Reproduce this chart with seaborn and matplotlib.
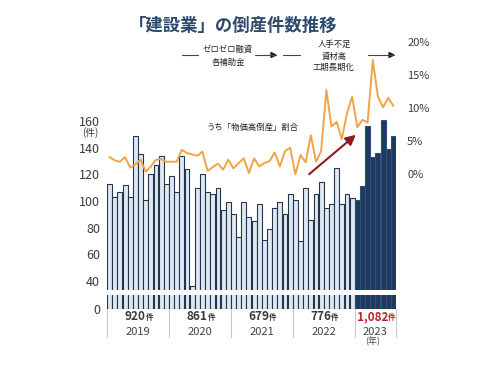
import numpy as np
import pandas as pd
import matplotlib.pyplot as plt
from matplotlib.transforms import blended_transform_factory
from matplotlib.ticker import FuncFormatter
import seaborn as sns

# ─── DATA ────────────────────────────────────────────────────────────────────
years = ["2019", "2020", "2021", "2022", "2023"]
months_per_year = [12, 12, 12, 12, 8]
year_totals = ["920", "861", "679", "776", "1,082"]

counts_2019 = [113, 103, 107, 112, 103, 149, 135, 101, 120, 127, 134, 113]
counts_2020 = [119, 107, 134, 124, 36, 110, 120, 107, 105, 110, 93, 99]
counts_2021 = [90, 73, 99, 88, 85, 98, 71, 79, 95, 99, 90, 105]
counts_2022 = [101, 70, 110, 86, 105, 114, 95, 98, 125, 98, 105, 102]
counts_2023 = [101, 111, 156, 133, 136, 161, 139, 149]

pct_2019 = [2.6, 2.1, 1.9, 2.6, 1.0, 1.5, 2.2, 0.4, 1.2, 2.2, 2.3, 1.9]
pct_2020 = [1.9, 1.9, 3.7, 3.2, 3.0, 2.8, 3.4, 0.5, 1.1, 1.6, 0.7, 2.2]
pct_2021 = [0.9, 1.7, 2.4, 0.2, 2.4, 1.2, 1.7, 2.0, 3.3, 1.2, 3.5, 4.0]
pct_2022 = [0.0, 2.9, 1.8, 5.9, 1.9, 3.5, 12.7, 7.2, 7.9, 5.3, 9.2, 11.7]
pct_2023 = [7.1, 8.2, 7.8, 17.2, 11.7, 10.1, 11.5, 10.3]

counts = counts_2019 + counts_2020 + counts_2021 + counts_2022 + counts_2023
pct = pct_2019 + pct_2020 + pct_2021 + pct_2022 + pct_2023

df = pd.DataFrame({
    "idx": np.arange(len(counts)),
    "count": counts,
    "pct": pct,
    "year": np.repeat(years, months_per_year),
})
df["period"] = np.where(df["year"] == "2023", "2023", "before")

# ─── STYLE ───────────────────────────────────────────────────────────────────
sns.set_theme(style="white")
plt.rcParams["font.family"] = ["Noto Sans CJK JP", "DejaVu Sans"]

LIGHT = "#dbe8f5"
DARK = "#163765"
EDGE = "#24364d"
ORANGE = "#f0a447"
TITLE = "#2e4a6b"
TEXT = "#3a3a3a"
RED = "#b8232b"
ARROW_RED = "#8e1b1f"

W, H = 500, 369
fig = plt.figure(figsize=(W / 100, H / 100), dpi=100)


def fx(x):
    return x / W


def fy(y):
    return 1 - y / H


ax = fig.add_axes([fx(107), fy(290.4), fx(396) - fx(107), fy(35) - fy(290.4)])
ax_low = fig.add_axes([fx(107), fy(308.5), fx(396) - fx(107), fy(295) - fy(308.5)])

for a in (ax, ax_low):
    sns.barplot(data=df, x="idx", y="count", hue="period",
                palette={"before": LIGHT, "2023": DARK}, dodge=False,
                width=0.95, edgecolor=EDGE, linewidth=0.8, legend=False, ax=a)
    # 2023 bars get a slightly lighter outline so the months stay visible
    for p, per in zip(a.patches, df["period"]):
        if per == "2023":
            p.set_edgecolor("#2a4f82")
    a.set_xlim(-0.5, len(counts) - 0.5)
    a.set_xticks([])
    a.set_xlabel("")
    a.set_ylabel("")
    a.tick_params(axis="y", length=0, pad=5, labelsize=9, labelcolor=TEXT)
    for s in a.spines.values():
        s.set_visible(False)

ax.set_ylim(33, 224.3)
ax.set_yticks(range(40, 161, 20))
ax_low.set_ylim(0, 10)
ax_low.set_yticks([0])

# ratio line on the right axis
ax2 = ax.twinx()
sns.lineplot(data=df, x="idx", y="pct", color=ORANGE, linewidth=1.4, ax=ax2)
ax2.set_ylim(-17.48, 20.98)
ax2.set_yticks([0, 5, 10, 15, 20])
ax2.yaxis.set_major_formatter(FuncFormatter(lambda v, _: f"{v:.0f}%"))
ax2.tick_params(axis="y", length=0, pad=8, labelsize=8, labelcolor=TEXT)
ax2.set_ylabel("")
for s in ax2.spines.values():
    s.set_visible(False)

# unit label under 160
ax.text(-0.059, 150.9, "(件)", transform=ax.get_yaxis_transform(),
        ha="center", va="center", fontsize=7, color=TEXT)

# ─── YEAR STRIP ──────────────────────────────────────────────────────────────
starts = np.cumsum([0] + months_per_year[:-1])
ends = np.cumsum(months_per_year)
trans = blended_transform_factory(ax_low.transData, fig.transFigure)
for b in list(starts - 0.5) + [ends[-1] - 0.5]:
    ax_low.plot([b, b], [fy(309), fy(337)], color="#c8c8c8", lw=0.8,
                transform=trans, clip_on=False)

for yr, tot, s, e in zip(years, year_totals, starts, ends):
    xc = (s + e - 1) / 2
    col = RED if yr == "2023" else TEXT
    num = ax_low.annotate(tot, xy=(xc, 0), xycoords=("data", "axes fraction"),
                          xytext=(-3, -8.5), textcoords="offset pixels",
                          ha="center", va="center", fontsize=8.5,
                          fontweight="bold", color=col)
    ax_low.annotate("件", xy=(1, 0.12), xycoords=num, ha="left", va="bottom",
                    fontsize=5.5, fontweight="bold", color=col)
    ax_low.annotate(yr, xy=(xc, 0), xycoords=("data", "axes fraction"),
                    xytext=(0, -23.5), textcoords="offset pixels",
                    ha="center", va="center", fontsize=8, color="#444444")

fig.text(fx(373), fy(341), "(年)", ha="center", va="center", fontsize=6.5,
         color="#444444")

# ─── TITLE & ANNOTATIONS ─────────────────────────────────────────────────────
fig.text(fx(233), fy(26), "「建設業」の倒産件数推移", ha="center", va="center",
         fontsize=12.5, fontweight="bold", color=TITLE)

fig.text(fx(228), fy(56), "ゼロゼロ融資\n各補助金", ha="center", va="center",
         fontsize=6, color="#222222", linespacing=1.5)
fig.text(fx(334), fy(56), "人手不足\n資材高\n工期長期化", ha="center",
         va="center", fontsize=6, color="#222222", linespacing=1.35)
fig.text(fx(253), fy(127), "うち「物価高倒産」割合", ha="center", va="center",
         fontsize=6, color="#222222")

for x0, x1, head in [(182, 198, False), (255, 276, True),
                     (283, 300, False), (368, 394, True)]:
    fig.add_artist(plt.Line2D([fx(x0), fx(x1)], [fy(55), fy(55)],
                              color="#444444", lw=0.8))
    if head:
        fig.add_artist(plt.Polygon([[fx(x1), fy(55)],
                                    [fx(x1 - 5), fy(52.5)],
                                    [fx(x1 - 5), fy(57.5)]],
                                   closed=True, color="#222222"))

ax.annotate("", xy=(fx(358), fy(133)), xycoords="figure fraction",
            xytext=(fx(307), fy(176)), textcoords="figure fraction",
            arrowprops=dict(arrowstyle="-|>,head_length=0.5,head_width=0.25",
                            color=ARROW_RED, lw=1.5))

fig.savefig("out.png", dpi=100, facecolor="white")
